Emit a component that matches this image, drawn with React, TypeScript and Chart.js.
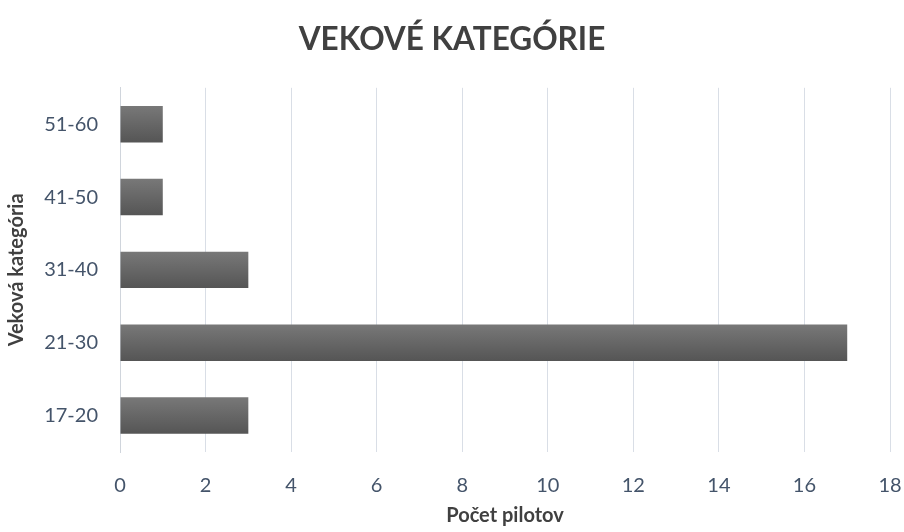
import React, { useEffect, useRef } from "react";
import { Chart, registerables } from "chart.js";

Chart.register(...registerables);

const categories = ["17-20", "21-30", "31-40", "41-50", "51-60"];
const pilots = [3, 17, 3, 1, 1];
const chartTitle = "VEKOVÉ KATEGÓRIE";
const xTitle = "Počet pilotov";
const yTitle = "Veková kategória";

const FONT = "Lato, 'Open Sans', sans-serif";

export default function App() {
  const ref = useRef<HTMLCanvasElement>(null);
  useEffect(() => {
    if (!ref.current) return;
    const chart = new Chart(ref.current, {
      type: "bar",
      data: {
        labels: categories,
        datasets: [
          {
            data: pilots,
            barPercentage: 0.5,
            categoryPercentage: 1,
            borderWidth: 0,
            backgroundColor: (ctx: any) => {
              const c = ctx.chart;
              const y = c.scales?.y;
              if (!y || ctx.dataIndex == null) return "#666666";
              const center = y.getPixelForValue(ctx.dataIndex);
              const band = Math.abs(y.getPixelForValue(1) - y.getPixelForValue(0));
              const h = band * 0.25;
              if (!isFinite(center) || !isFinite(h) || h <= 0) return "#666666";
              const g = c.ctx.createLinearGradient(0, center - h, 0, center + h);
              g.addColorStop(0, "#787878");
              g.addColorStop(1, "#555555");
              return g;
            },
          },
        ],
      },
      options: {
        indexAxis: "y",
        animation: false,
        responsive: false,
        maintainAspectRatio: false,
        layout: { padding: { left: 0, right: 0, top: 0, bottom: 0 } },
        plugins: {
          legend: { display: false },
          tooltip: { enabled: false },
          title: {
            display: true,
            text: chartTitle,
            color: "#404040",
            font: { family: FONT, size: 31.5, weight: "bold", lineHeight: 1.2 },
            padding: { top: 21, bottom: 29 },
          },
        },
        scales: {
          x: {
            min: 0,
            max: 18,
            ticks: {
              stepSize: 2,
              color: "#44546A",
              font: { family: FONT, size: 20 },
              padding: 22,
            },
            grid: { color: "#D9DEE6", lineWidth: 1, drawTicks: false },
            border: { display: false },
            title: {
              display: true,
              text: xTitle,
              color: "#404040",
              font: { family: FONT, size: 20, weight: "bold", lineHeight: 1.2 },
              padding: { top: 0, bottom: 4 },
            },
            afterFit: (s: any) => {
              s.height = 80;
              s.paddingRight = 14;
              s.paddingLeft = 0;
            },
          },
          y: {
            reverse: true,
            ticks: {
              color: "#44546A",
              font: { family: FONT, size: 20 },
              padding: 22,
            },
            grid: { display: false, drawTicks: false },
            border: { display: true, color: "#D0D5DC", width: 1 },
            title: {
              display: true,
              text: yTitle,
              color: "#404040",
              font: { family: FONT, size: 20, weight: "bold", lineHeight: 1.2 },
              padding: { top: 5, bottom: 0 },
            },
            afterFit: (s: any) => {
              s.width = 120;
            },
          },
        },
      },
    } as any);
    chart.update();
    return () => chart.destroy();
  }, []);
  return (
    <div style={{ position: "fixed", left: 0, top: 0, width: 904, height: 532, background: "#fff" }}>
      <canvas ref={ref} width={904} height={532} />
    </div>
  );
}
